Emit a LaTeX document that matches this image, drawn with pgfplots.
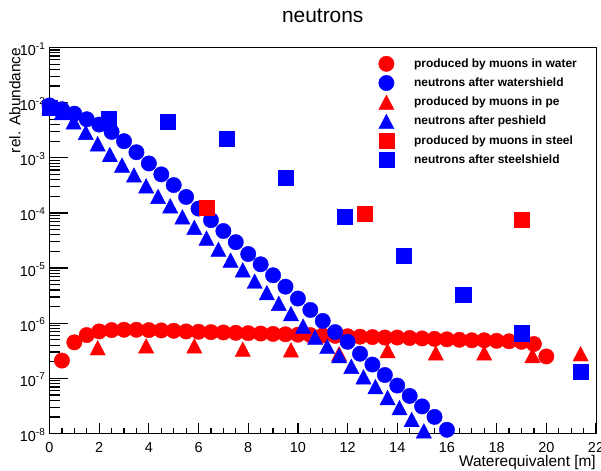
\documentclass[border=0pt]{standalone}
\usepackage{fontspec}
\setmainfont{Liberation Sans}
\usepackage{pgfplots}
\pgfplotsset{compat=1.18}
\usepackage{pgfplotstable}

% decade labels 10^{n} set in the text font
\newcommand\dec[1]{10\raisebox{6.5bp}{\fontsize{10}{10}\selectfont #1}}

% neutrons produced by muons in water (red circles)
\pgfplotstableread{
x y
0.5 2.1e-7
1.0 4.5e-7
1.5 6.1e-7
2.0 7.1e-7
2.5 7.5e-7
3.0 7.6e-7
3.5 7.6e-7
4.0 7.5e-7
4.5 7.4e-7
5.0 7.3e-7
5.5 7.1e-7
6.0 7.0e-7
6.5 6.9e-7
7.0 6.8e-7
7.5 6.7e-7
8.0 6.6e-7
8.5 6.5e-7
9.0 6.4e-7
9.5 6.3e-7
10.0 6.2e-7
10.5 6.1e-7
11.0 6.0e-7
11.5 5.9e-7
12.0 5.8e-7
12.5 5.7e-7
13.0 5.6e-7
13.5 5.5e-7
14.0 5.5e-7
14.5 5.4e-7
15.0 5.3e-7
15.5 5.2e-7
16.0 5.1e-7
16.5 5.0e-7
17.0 4.9e-7
17.5 4.9e-7
18.0 4.8e-7
18.5 4.7e-7
19.0 4.6e-7
19.5 4.2e-7
20.0 2.5e-7
}\waterprod

% neutrons after water shield (blue circles)
\pgfplotstableread{
x y
0.0 8.9e-3
0.5 7.6e-3
1.0 6.3e-3
1.5 5.0e-3
2.0 4.0e-3
2.5 2.95e-3
3.0 2.0e-3
3.5 1.26e-3
4.0 7.9e-4
4.5 5.0e-4
5.0 3.2e-4
5.5 1.95e-4
6.0 1.2e-4
6.5 7.4e-5
7.0 4.7e-5
7.5 2.95e-5
8.0 1.8e-5
8.5 1.17e-5
9.0 7.4e-6
9.5 4.6e-6
10.0 2.8e-6
10.5 1.74e-6
11.0 1.1e-6
11.5 6.9e-7
12.0 4.6e-7
12.5 2.8e-7
13.0 1.78e-7
13.5 1.15e-7
14.0 7.4e-8
14.5 4.8e-8
15.0 3.1e-8
15.5 2.0e-8
16.0 1.17e-8
}\watershield

% neutrons produced by muons in pe (red triangles)
\pgfplotstableread{
x y
1.94 3.6e-7
3.89 3.9e-7
5.83 3.9e-7
7.78 3.4e-7
9.72 3.3e-7
11.66 2.8e-7
13.61 3.2e-7
15.55 2.9e-7
17.50 2.9e-7
19.44 2.6e-7
21.38 2.8e-7
}\peprod

% neutrons after pe shield (blue triangles)
\pgfplotstableread{
x y
0.00 8.5e-3
0.49 6.6e-3
0.97 4.5e-3
1.46 2.9e-3
1.94 1.8e-3
2.43 1.15e-3
2.92 7.4e-4
3.40 4.9e-4
3.89 3.1e-4
4.37 2.0e-4
4.86 1.35e-4
5.35 8.5e-5
5.83 5.5e-5
6.32 3.5e-5
6.80 2.2e-5
7.29 1.4e-5
7.78 9.3e-6
8.26 5.8e-6
8.75 3.6e-6
9.23 2.3e-6
9.72 1.5e-6
10.21 8.9e-7
10.69 5.6e-7
11.18 3.8e-7
11.66 2.6e-7
12.15 1.66e-7
12.64 1.07e-7
13.12 7.1e-8
13.61 4.5e-8
14.09 2.95e-8
14.58 1.8e-8
15.07 1.12e-8
}\peshield

% neutrons produced by muons in steel (red squares)
\pgfplotstableread{
x y
6.34 1.24e-4
12.68 9.8e-5
19.02 7.6e-5
}\steelprod

% neutrons after steel shield (blue squares)
\pgfplotstableread{
x y
0.00 8.0e-3
2.38 5.2e-3
4.76 4.5e-3
7.13 2.2e-3
9.51 4.4e-4
11.89 8.5e-5
14.27 1.66e-5
16.65 3.3e-6
19.02 6.6e-7
21.40 1.3e-7
}\steelshield

\pgfplotsset{
  rcirc/.style={only marks, color=red, mark=*, mark size=7.7bp, mark options={draw=red, fill=red, line width=0.4bp}},
  bcirc/.style={only marks, color=blue, mark=*, mark size=7.7bp, mark options={draw=blue, fill=blue, line width=0.4bp}},
  rtri/.style={only marks, color=red, mark=triangle*, mark size=8.8bp, mark options={draw=red, fill=red, line width=0.4bp, yshift=-2.5bp, yscale=1.1}},
  btri/.style={only marks, color=blue, mark=triangle*, mark size=8.8bp, mark options={draw=blue, fill=blue, line width=0.4bp, yshift=-2.5bp, yscale=1.1}},
  rsq/.style={only marks, color=red, mark=square*, mark size=7.6bp, mark options={draw=red, fill=red, line width=0.4bp}},
  bsq/.style={only marks, color=blue, mark=square*, mark size=7.6bp, mark options={draw=blue, fill=blue, line width=0.4bp}},
}

\begin{document}
\begin{tikzpicture}
\begin{axis}[
  at={(0,0)}, anchor=south west,
  scale only axis, width=546.5bp, height=386bp,
  xmin=0, xmax=22,
  ymode=log, ymin=1e-8, ymax=1e-1,
  clip=false,
  axis line style={line width=1bp},
  every tick/.style={black, line width=1.2bp},
  tick align=inside, tick pos=left,
  major tick length=18bp, minor tick length=10bp,
  every major x tick/.append style={/pgfplots/major tick length=10.7bp},
  every minor x tick/.append style={/pgfplots/minor tick length=5.4bp},
  xtick={0,2,...,22},
  xticklabels={0,2,4,6,8,10,12,14,16,18,20,22},
  minor x tick num=3,
  ytick={1e-8,1e-7,1e-6,1e-5,1e-4,1e-3,1e-2,1e-1},
  yticklabels={\dec{-8},\dec{-7},\dec{-6},\dec{-5},\dec{-4},\dec{-3},\dec{-2},\dec{-1}},
  minor ytick={2e-8,3e-8,4e-8,5e-8,6e-8,7e-8,8e-8,9e-8,
               2e-7,3e-7,4e-7,5e-7,6e-7,7e-7,8e-7,9e-7,
               2e-6,3e-6,4e-6,5e-6,6e-6,7e-6,8e-6,9e-6,
               2e-5,3e-5,4e-5,5e-5,6e-5,7e-5,8e-5,9e-5,
               2e-4,3e-4,4e-4,5e-4,6e-4,7e-4,8e-4,9e-4,
               2e-3,3e-3,4e-3,5e-3,6e-3,7e-3,8e-3,9e-3,
               2e-2,3e-2,4e-2,5e-2,6e-2,7e-2,8e-2,9e-2},
  xticklabel style={font=\fontsize{14.5}{14.5}\selectfont, anchor=base, yshift=-19bp, inner sep=0pt},
  yticklabel style={font=\fontsize{14.5}{14.5}\selectfont, anchor=base east, xshift=-4.5bp, yshift=-8bp, inner sep=0pt},
  title={neutrons},
  title style={font=\fontsize{21}{21}\selectfont, at={(axis description cs:0.5,1)}, anchor=base, yshift=19.5bp, inner sep=0pt},
  xlabel={Waterequivalent [m]},
  every axis x label/.style={at={(axis description cs:1,-0.0855)}, anchor=base east, inner sep=0pt, font=\fontsize{15.5}{15.5}\selectfont},
  ylabel={rel. Abundance},
  every axis y label/.style={at={(axis description cs:-0.0531,1)}, anchor=base east, rotate=90, inner sep=0pt, font=\fontsize{15.5}{15.5}\selectfont},
  legend image code/.code={\draw[#1] plot coordinates {(0bp,0bp)};},
  legend cell align=left,
  legend style={draw=none, fill=none, inner sep=0pt, outer sep=0pt,
    at={(axis description cs:0,1)}, anchor=north west, xshift=329.2bp, yshift=-6.7bp,
    row sep=0pt,
    nodes={inner sep=0pt, text height=13bp, text depth=6.2bp, font=\fontsize{12}{14}\selectfont\bfseries},
    /tikz/every odd column/.append style={column sep=20bp}},
]
% legend entries, in the order of the key
\addlegendimage{rcirc}\addlegendentry{produced by muons in water}
\addlegendimage{bcirc}\addlegendentry{neutrons after watershield}
\addlegendimage{rtri}\addlegendentry{produced by muons in pe}
\addlegendimage{btri}\addlegendentry{neutrons after peshield}
\addlegendimage{rsq}\addlegendentry{produced by muons in steel}
\addlegendimage{bsq}\addlegendentry{neutrons after steelshield}

% data, drawn back to front
\addplot[rcirc, forget plot] table[x=x, y=y] {\waterprod};
\addplot[rtri, forget plot] table[x=x, y=y] {\peprod};
\addplot[btri, forget plot] table[x=x, y=y] {\peshield};
\addplot[bcirc, forget plot] table[x=x, y=y] {\watershield};
\addplot[rsq, forget plot] table[x=x, y=y] {\steelprod};
\addplot[bsq, forget plot] table[x=x, y=y] {\steelshield};
\end{axis}
\pgfresetboundingbox
\path[use as bounding box] (-49.5bp,-37.5bp) rectangle (551.5bp,433.5bp);
\end{tikzpicture}
\end{document}
